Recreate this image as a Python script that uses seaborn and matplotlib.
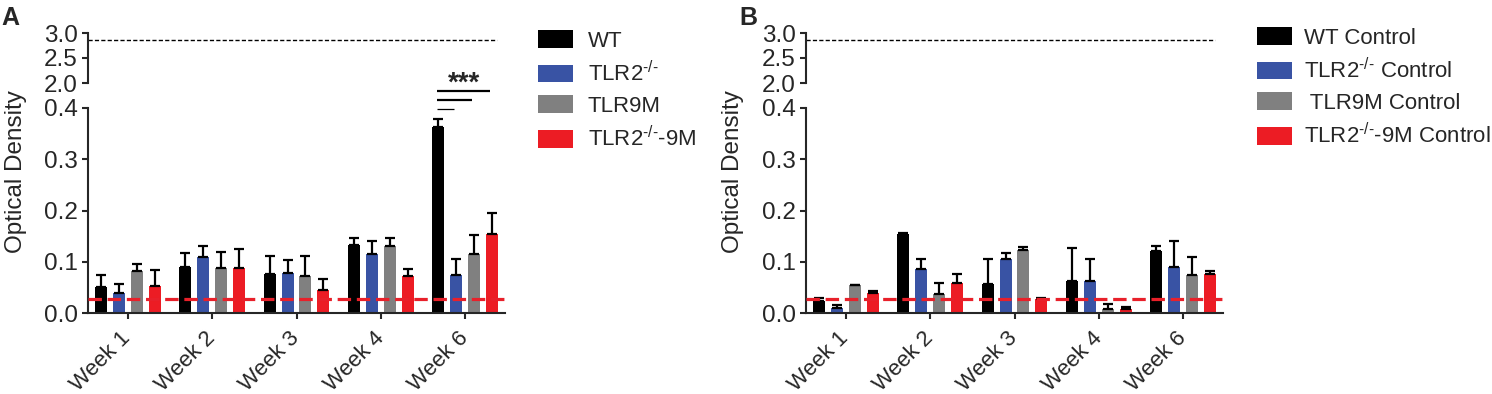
import numpy as np
import pandas as pd
import matplotlib
matplotlib.use("Agg")
import matplotlib.pyplot as plt
import seaborn as sns

# ---------------- data ----------------
weeks = ["Week 1", "Week 2", "Week 3", "Week 4", "Week 6"]

groups_a = ["WT", r"TLR2$^{\text{-/-}}$", "TLR9M", r"TLR2$^{\text{-/-}}$-9M"]
groups_b = ["WT Control", r"TLR2$^{\text{-/-}}$ Control", " TLR9M Control",
            r"TLR2$^{\text{-/-}}$-9M Control"]

wt_a = [0.051, 0.090, 0.077, 0.133, 0.362]
wt_a_sem = [0.023, 0.028, 0.034, 0.013, 0.017]
tlr2_a = [0.040, 0.110, 0.079, 0.115, 0.075]
tlr2_a_sem = [0.017, 0.021, 0.024, 0.025, 0.030]
tlr9m_a = [0.081, 0.087, 0.073, 0.131, 0.115]
tlr9m_a_sem = [0.015, 0.032, 0.038, 0.016, 0.037]
tlr29m_a = [0.053, 0.088, 0.045, 0.073, 0.155]
tlr29m_a_sem = [0.030, 0.036, 0.021, 0.012, 0.040]

wt_b = [0.023, 0.154, 0.056, 0.062, 0.121]
wt_b_sem = [0.007, 0.002, 0.050, 0.064, 0.010]
tlr2_b = [0.010, 0.085, 0.105, 0.062, 0.090]
tlr2_b_sem = [0.006, 0.020, 0.012, 0.043, 0.051]
tlr9m_b = [0.054, 0.038, 0.123, 0.007, 0.074]
tlr9m_b_sem = [0.001, 0.021, 0.005, 0.010, 0.035]
tlr29m_b = [0.039, 0.058, 0.027, 0.008, 0.076]
tlr29m_b_sem = [0.003, 0.019, 0.002, 0.004, 0.005]

cutoff_a = 0.028          # red dashed detection line
cutoff_b = 0.027
upper_ref = 2.86          # black dashed line in upper segment
sig_levels = [0.398, 0.416, 0.434]   # significance brackets (Week 6, WT vs others)
sig_text = "***"
sig_text_y = 0.434

colors = ["#000000", "#3953a4", "#808080", "#ec1c24"]

# ---------------- style ----------------
sns.set_style("ticks")
plt.rcParams["font.family"] = ["Liberation Sans", "DejaVu Sans"]
plt.rcParams["mathtext.fontset"] = "custom"
plt.rcParams["mathtext.rm"] = "Liberation Sans"
plt.rcParams["mathtext.it"] = "Liberation Sans:italic"
plt.rcParams["mathtext.bf"] = "Liberation Sans:bold"

W, H = 1492, 394
fig = plt.figure(figsize=(W / 100, H / 100), dpi=100)

TICK_FS = 17.5
XT_FS = 16
LW = 1.5


def fx(px):
    return px / W


def fy(py):
    return 1 - py / H


def panel(left_px, right_px, groups, means, sems, cutoff, legend_xy, label_xy, ylab_x, letter,
          sig=False, textpad=0.65):
    bottom_px, top_px = 313, 108
    ax = fig.add_axes([fx(left_px), fy(bottom_px), fx(right_px - left_px), (bottom_px - top_px) / H])
    axt = fig.add_axes([fx(left_px), fy(83), fx(right_px - left_px), 50 / H])

    rows = []
    for g, m in zip(groups, means):
        for w, v in zip(weeks, m):
            rows.append({"week": w, "group": g, "od": v})
    df = pd.DataFrame(rows)
    sns.barplot(data=df, x="week", y="od", hue="group", order=weeks, hue_order=groups,
                palette=colors, width=0.85, gap=0.33, errorbar=None, saturation=1,
                linewidth=0, ax=ax, legend=True)
    containers = list(ax.containers)
    centers = []
    for cont, m, s in zip(containers, means, sems):
        xs = [p.get_x() + p.get_width() / 2 for p in cont]
        centers.append(xs)
        ax.errorbar(xs, m, yerr=[np.zeros(len(m)), s], fmt="none", ecolor="black",
                    elinewidth=1.6, capsize=3.3, capthick=1.6, zorder=1)
    ax.axhline(cutoff, color="#e8202a", lw=2.3, dashes=(4.2, 1.8), zorder=5)

    ax.set_xlim(-0.47, 4.47)
    ax.set_ylim(0, 0.4)
    ax.set_yticks([0.0, 0.1, 0.2, 0.3, 0.4])
    ax.set_yticklabels(["0.0", "0.1", "0.2", "0.3", "0.4"])
    ax.set_yticks([0.4], minor=True)
    ax.set_xlabel("")
    ax.set_ylabel("")
    for sp in ["top", "right"]:
        ax.spines[sp].set_visible(False)
    for sp in ["left", "bottom"]:
        ax.spines[sp].set_linewidth(LW)
    ax.tick_params(axis="both", which="major", labelsize=TICK_FS, width=LW, length=4.5, pad=3)
    ax.tick_params(axis="y", which="minor", direction="in", width=LW, length=5, left=True)
    ax.set_xticks(range(len(weeks)))
    ax.set_xticklabels(weeks, rotation=45, ha="right", va="center", rotation_mode="anchor",
                       fontsize=XT_FS)
    ax.tick_params(axis="x", which="major", pad=11.5)

    # upper segment
    axt.set_xlim(-0.47, 4.47)
    axt.set_ylim(2.0, 3.0)
    axt.set_yticks([2.0, 2.5, 3.0])
    axt.set_yticklabels(["2.0", "2.5", "3.0"])
    axt.set_yticks([2.0], minor=True)
    axt.set_xticks([])
    for sp in ["top", "right", "bottom"]:
        axt.spines[sp].set_visible(False)
    axt.spines["left"].set_linewidth(LW)
    axt.tick_params(axis="y", which="major", labelsize=TICK_FS, width=LW, length=4.5, pad=3)
    axt.tick_params(axis="y", which="minor", direction="in", width=LW, length=5, left=True)
    axt.patch.set_alpha(0)
    axt.axhline(upper_ref, xmin=0, xmax=0.98, color="black", lw=1.0, dashes=(3, 1.6))

    if sig:
        x0 = centers[0][-1] - 0.02
        for lvl, cx, lw in zip(sig_levels, [c[-1] for c in centers[1:]], [0.9, 1.6, 1.6]):
            ax.plot([x0, cx - 0.03], [lvl, lvl], color="black", lw=lw, clip_on=False,
                    solid_capstyle="butt")
        ax.text((x0 + centers[-1][-1]) / 2, sig_text_y, sig_text, ha="center", va="baseline",
                fontsize=20, fontweight="bold", clip_on=False)

    sns.move_legend(ax, "upper left", bbox_to_anchor=(fx(legend_xy[0]), fy(legend_xy[1])),
                    bbox_transform=fig.transFigure, frameon=False, title=None, fontsize=16,
                    handlelength=1.58, handleheight=0.86, handletextpad=textpad,
                    labelspacing=0.42, borderpad=0, borderaxespad=0)

    fig.text(fx(ylab_x), fy(172), "Optical Density", rotation=90, ha="center", va="center",
             fontsize=17.5)
    fig.text(fx(label_xy[0]), fy(label_xy[1]), letter, fontsize=18, fontweight="bold",
             ha="left", va="baseline")


panel(88, 505, groups_a, [wt_a, tlr2_a, tlr9m_a, tlr29m_a],
      [wt_a_sem, tlr2_a_sem, tlr9m_a_sem, tlr29m_a_sem], cutoff_a,
      legend_xy=(538, 30), label_xy=(1, 25), ylab_x=16, letter="A", sig=True)
panel(806, 1223, groups_b, [wt_b, tlr2_b, tlr9m_b, tlr29m_b],
      [wt_b_sem, tlr2_b_sem, tlr9m_b_sem, tlr29m_b_sem], cutoff_b,
      legend_xy=(1257, 27), label_xy=(739, 25), ylab_x=733, letter="B", textpad=0.55)

fig.savefig("out.png", dpi=100)
